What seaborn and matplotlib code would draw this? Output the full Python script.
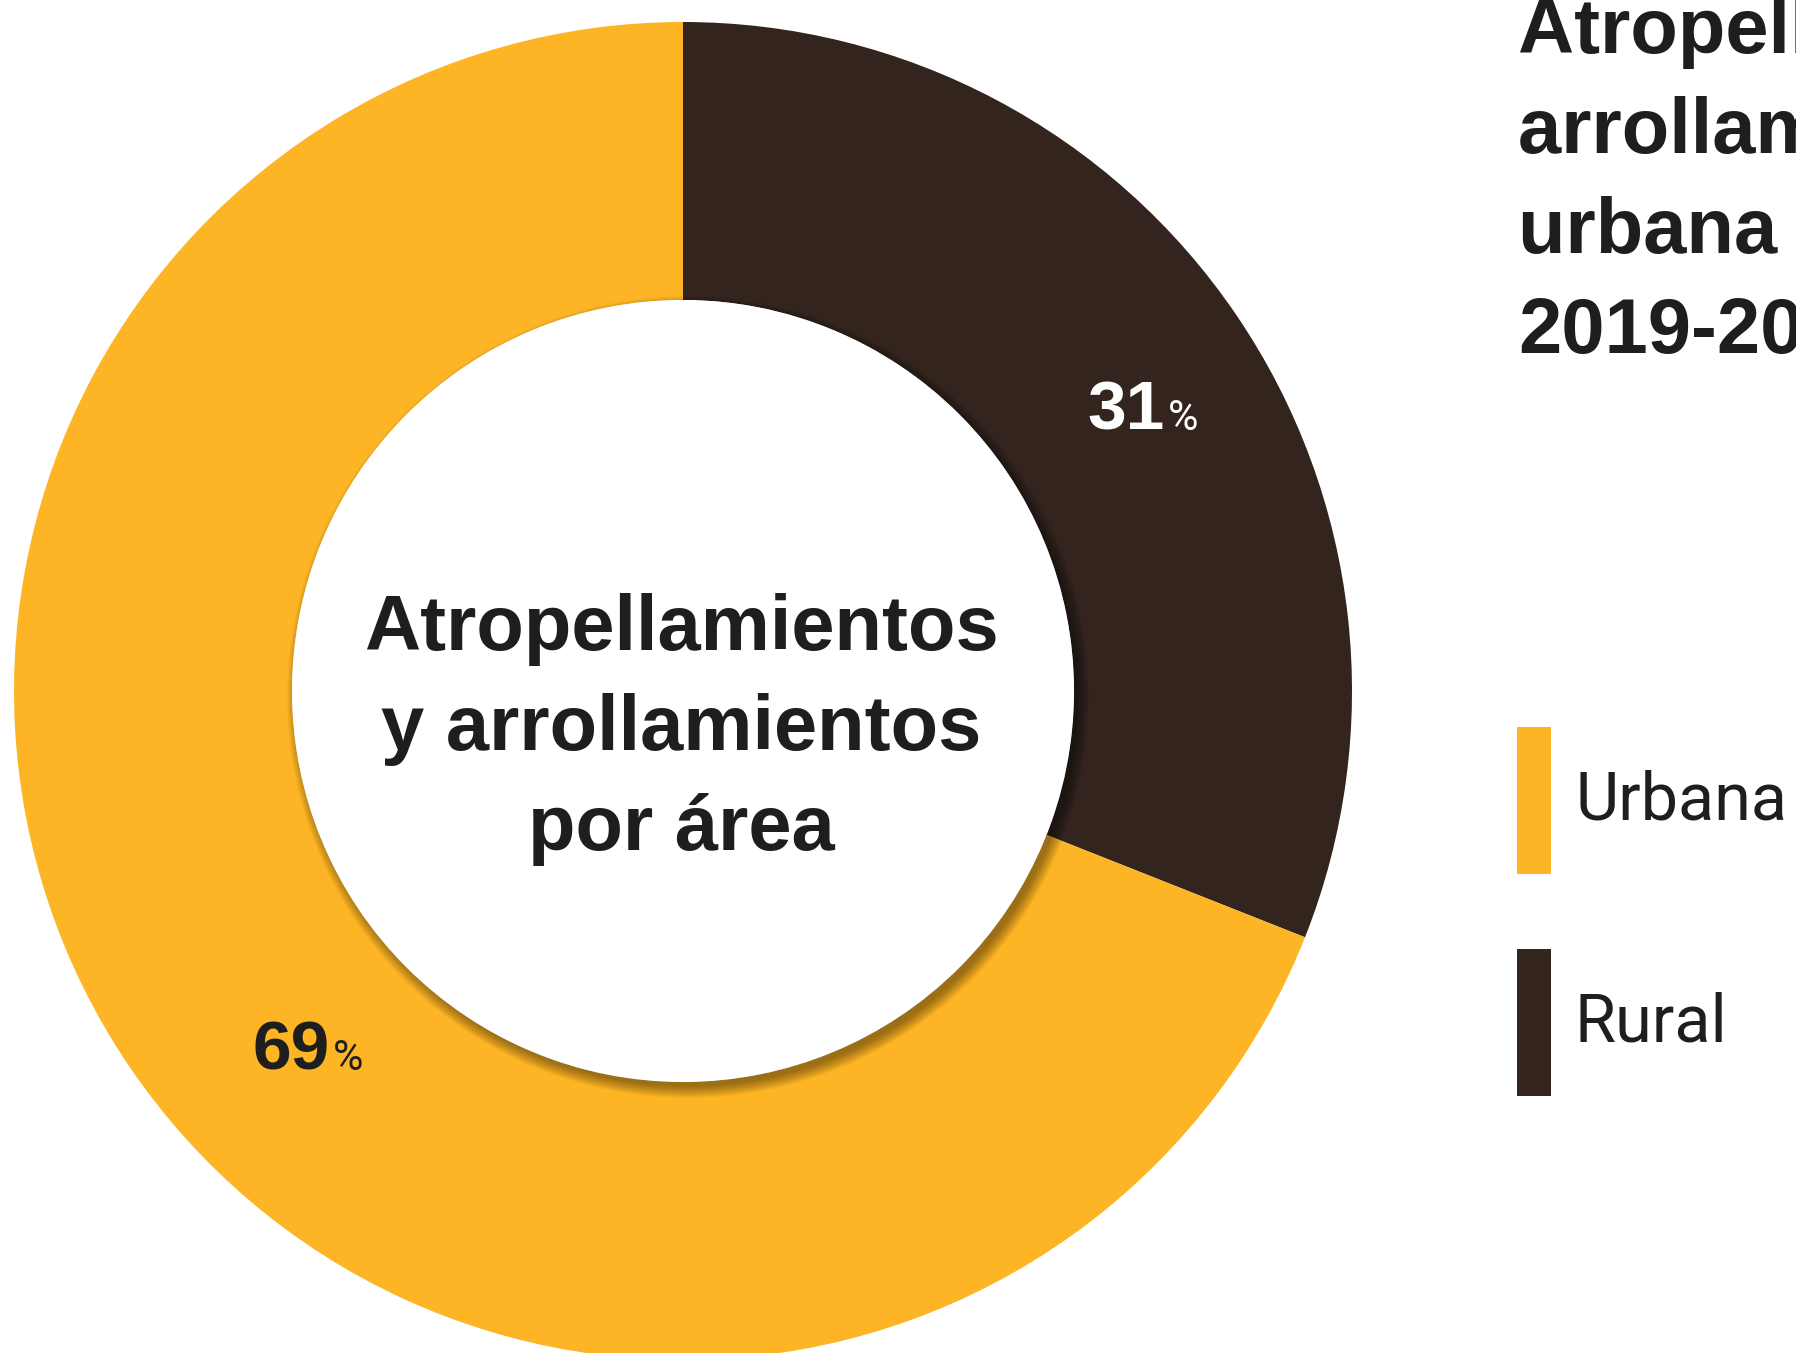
import matplotlib
matplotlib.use("Agg")
import matplotlib.pyplot as plt
from matplotlib.patches import Circle, Rectangle
import numpy as np
import seaborn as sns

# ---- data ----
categories = ["Rural", "Urbana"]
values = [31, 69]
legend_order = ["Urbana", "Rural"]
title_lines = ["Atropellamientos y", "arrollamientos en área", "urbana y rural", "2019-2020"]
center_lines = ["Atropellamientos", "y arrollamientos", "por área"]

sns.set_theme(style="white")
palette = {"Urbana": "#FDB525", "Rural": "#33251E"}
TXT = "#1E1E1E"

W, H = 1796, 1353
fig = plt.figure(figsize=(W / 100, H / 100), dpi=100)
ax = fig.add_axes([0, 0, 1, 1])

cx, cy = 683, 691
R_out, R_in = 669, 391

wedges, _ = ax.pie(values, colors=[palette[c] for c in categories], startangle=-90,
                   counterclock=True, radius=R_out, center=(cx, cy),
                   wedgeprops=dict(width=R_out - R_in, linewidth=0))

# soft shadow of the inner circle
for k in range(14):
    ax.add_patch(Circle((cx + 5, cy + 6), R_in + 10 - k * 0.9, color="black",
                        alpha=0.03, lw=0, zorder=3))
ax.add_patch(Circle((cx, cy), R_in, color="white", lw=0, zorder=4))

ax.set_xlim(0, W)
ax.set_ylim(H, 0)
ax.set_aspect("equal")
ax.axis("off")

# center text
for i, line in enumerate(center_lines):
    ax.text(cx - 2, 650 + i * 100, line, ha="center", va="baseline", fontsize=56,
            fontweight="bold", family="Liberation Sans", color=TXT, zorder=5)

# percent labels
label_pos = {"Rural": (1165, 430, "white"), "Urbana": (330, 1070, TXT)}
for c, v in zip(categories, values):
    x, y, col = label_pos[c]
    ax.text(x, y, f"{v}", ha="right", va="baseline", fontsize=50, fontweight="heavy",
            family="Liberation Sans", color=col, zorder=5)
    ax.text(x + 3, y, "%", ha="left", va="baseline", fontsize=30, fontweight="normal",
            family="Roboto", color=col, zorder=5)

# title (clipped by the figure edge, as in the reference)
for i, line in enumerate(title_lines):
    ax.text(1518, 53 + i * 100, line, ha="left", va="baseline", fontsize=56,
            fontweight="bold", family="Liberation Sans", color=TXT, clip_on=False)

# legend
leg_y = {"Urbana": 727, "Rural": 949}
for c in legend_order:
    y0 = leg_y[c]
    ax.add_patch(Rectangle((1517, y0), 34, 147, color=palette[c], lw=0))
    ax.text(1575, y0 + 93, c, ha="left", va="baseline", fontsize=48,
            fontweight="normal", family="Roboto", color=TXT)

fig.savefig("out.png", dpi=100, facecolor="white")
